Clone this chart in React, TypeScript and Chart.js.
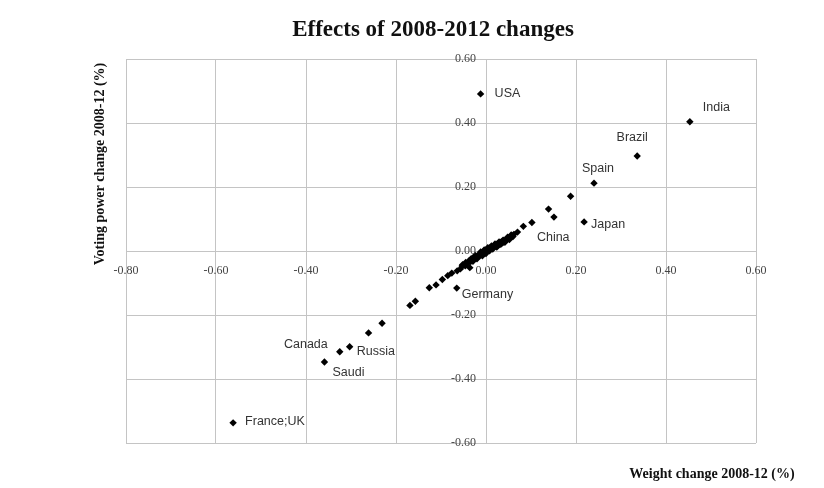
import React, { useEffect, useRef } from "react";
import { Chart, registerables } from "chart.js";

Chart.register(...registerables);

// Labelled members: weight change vs voting power change, 2008-12 (%)
const countries = ["USA", "India", "Brazil", "Spain", "Japan", "China", "Germany", "Canada", "Russia", "Saudi", "France;UK"];
const countryWeightChange = [-0.012, 0.453, 0.336, 0.24, 0.218, 0.102, -0.065, -0.325, -0.303, -0.359, -0.562];
const countryVotingChange = [0.491, 0.404, 0.297, 0.212, 0.091, 0.089, -0.116, -0.315, -0.299, -0.347, -0.537];

// All other members
const otherWeightChange = [
  -0.261, -0.231, -0.169, -0.157, -0.126, -0.111, -0.097, -0.085, -0.076, -0.064,
  -0.057, -0.053, -0.049, -0.045, -0.036, -0.041, -0.038, -0.034, -0.031, -0.028,
  -0.025, -0.022, -0.019, -0.016, -0.014, -0.011, -0.009, -0.007, -0.005, -0.003,
  -0.001, 0.001, 0.003, 0.005, 0.007, 0.009, 0.011, 0.013, 0.016, 0.019,
  0.022, 0.025, 0.028, 0.031, 0.034, 0.037, 0.04, 0.043, 0.046, 0.05,
  0.054, 0.058, 0.062, 0.07, 0.083, 0.139, 0.151, 0.188,
  -0.052, -0.046, -0.043, -0.033, -0.029, -0.024, -0.02, -0.012, -0.008, -0.004,
  0.0, 0.004, 0.008, 0.012, 0.015, 0.02, 0.024, 0.029, 0.033, 0.038,
  0.042, 0.048, 0.052, 0.056, 0.06,
];
const otherVotingChange = [
  -0.256, -0.226, -0.17, -0.157, -0.115, -0.106, -0.089, -0.077, -0.069, -0.062,
  -0.056, -0.047, -0.044, -0.036, -0.052, -0.038, -0.031, -0.033, -0.025, -0.027,
  -0.02, -0.022, -0.015, -0.013, -0.016, -0.008, -0.01, -0.004, -0.006, 0.001,
  -0.002, 0.004, 0.002, 0.007, 0.005, 0.01, 0.008, 0.013, 0.011, 0.017,
  0.015, 0.022, 0.019, 0.025, 0.028, 0.026, 0.033, 0.031, 0.037, 0.04,
  0.044, 0.047, 0.052, 0.059, 0.077, 0.131, 0.106, 0.171,
  -0.043, -0.046, -0.04, -0.024, -0.032, -0.014, -0.024, -0.003, -0.015, 0.003,
  -0.008, 0.01, 0.001, 0.016, 0.006, 0.022, 0.012, 0.028, 0.021, 0.034,
  0.027, 0.043, 0.036, 0.05, 0.045,
];

const xRange = [-0.8, 0.6];
const yRange = [-0.6, 0.6];
const tickStep = 0.2;

const chartTitle = "Effects of 2008-2012 changes";
const xAxisTitle = "Weight change 2008-12 (%)";
const yAxisTitle = "Voting power change 2008-12 (%)";

// Where each country name sits relative to its marker
const labelPlacement: Record<string, { dx: number; dy: number; align: CanvasTextAlign }> = {
  USA: { dx: 14, dy: 0, align: "left" },
  India: { dx: 13, dy: -14, align: "left" },
  Brazil: { dx: -5, dy: -18, align: "center" },
  Spain: { dx: 4, dy: -15, align: "center" },
  Japan: { dx: 7, dy: 3, align: "left" },
  China: { dx: 5, dy: 15, align: "left" },
  Germany: { dx: 5, dy: 6, align: "left" },
  Canada: { dx: -12, dy: -7, align: "right" },
  Russia: { dx: 7, dy: 5, align: "left" },
  Saudi: { dx: 8, dy: 11, align: "left" },
  "France;UK": { dx: 12, dy: -1, align: "left" },
};

const serif = '"Liberation Serif", "Times New Roman", serif';
const sans = '"Liberation Sans", Arial, sans-serif';
const gridColor = "#c4c4c4";
const tickColor = "#444";

const fmt = (v: number) => (Math.abs(v) < 1e-9 ? "0.00" : v.toFixed(2));

const textPlugin = {
  id: "textPlugin",
  afterDatasetsDraw(chart: any) {
    const ctx: CanvasRenderingContext2D = chart.ctx;
    const xScale = chart.scales.x;
    const yScale = chart.scales.y;
    ctx.save();

    // Vertical-axis tick labels, right-aligned just left of the centre axis
    const axisX = xScale.getPixelForValue(0);
    ctx.font = `12px ${serif}`;
    ctx.fillStyle = tickColor;
    ctx.textAlign = "right";
    ctx.textBaseline = "middle";
    yScale.ticks.forEach((t: any) => {
      ctx.fillText(fmt(t.value), axisX - 10, yScale.getPixelForValue(t.value));
    });

    // Country names
    const meta = chart.getDatasetMeta(0);
    ctx.font = `12.5px ${sans}`;
    ctx.fillStyle = "#333";
    meta.data.forEach((el: any, i: number) => {
      const p = labelPlacement[countries[i]];
      ctx.textAlign = p.align;
      ctx.fillText(countries[i], el.x + p.dx, el.y + p.dy);
    });

    // Titles
    ctx.fillStyle = "#111";
    ctx.textAlign = "center";
    ctx.font = `bold 23px ${serif}`;
    ctx.fillText(chartTitle, 433, 30);

    ctx.font = `bold 14px ${serif}`;
    ctx.fillText(xAxisTitle, 712, 474);

    ctx.translate(100, 164);
    ctx.rotate(-Math.PI / 2);
    ctx.fillText(yAxisTitle, 0, 0);
    ctx.restore();
  },
};

export default function App() {
  const canvasRef = useRef<HTMLCanvasElement | null>(null);

  useEffect(() => {
    document.body.style.margin = "0";
    const canvas = canvasRef.current;
    if (!canvas) return;

    const pointStyle = {
      pointStyle: "rectRot" as const,
      pointRadius: 3.7,
      pointBackgroundColor: "#000",
      pointBorderColor: "#000",
      pointBorderWidth: 0,
    };

    const chart = new Chart(canvas, {
      type: "scatter",
      data: {
        datasets: [
          {
            label: "Labelled",
            data: countries.map((_, i) => ({ x: countryWeightChange[i], y: countryVotingChange[i] })),
            ...pointStyle,
          },
          {
            label: "Other",
            data: otherWeightChange.map((x, i) => ({ x, y: otherVotingChange[i] })),
            ...pointStyle,
          },
        ],
      },
      options: {
        animation: false,
        responsive: false,
        layout: { padding: { left: 126, right: 68, top: 59, bottom: 45 } },
        plugins: {
          legend: { display: false },
          title: { display: false },
          tooltip: { enabled: false },
        },
        scales: {
          x: {
            type: "linear",
            position: { y: 0 } as any,
            min: xRange[0],
            max: xRange[1],
            grid: { color: gridColor, lineWidth: 1, drawTicks: false },
            border: { color: gridColor, width: 1 },
            ticks: {
              stepSize: tickStep,
              padding: 13,
              color: tickColor,
              font: { family: serif, size: 12 },
              callback: (v: any) => fmt(Number(v)),
            },
          },
          y: {
            type: "linear",
            position: { x: 0 } as any,
            min: yRange[0],
            max: yRange[1],
            grid: { color: gridColor, lineWidth: 1, drawTicks: false },
            border: { color: gridColor, width: 1 },
            ticks: {
              stepSize: tickStep,
              display: false,
            },
          },
        },
      },
      plugins: [textPlugin],
    });

    return () => chart.destroy();
  }, []);

  return (
    <div style={{ width: 824, height: 488, background: "#fff" }}>
      <canvas ref={canvasRef} width={824} height={488} />
    </div>
  );
}
